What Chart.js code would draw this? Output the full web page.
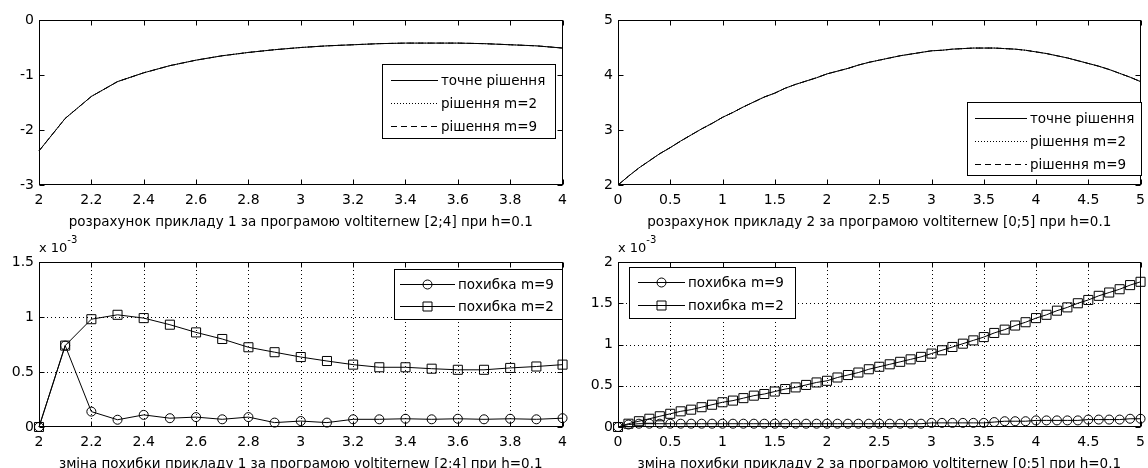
<!DOCTYPE html>
<html>
<head>
<meta charset="utf-8">
<script src="https://cdn.jsdelivr.net/npm/chart.js@4"></script>
<style>
  body { margin: 0; background: #fff; overflow: hidden; }
  canvas { position: absolute; }
</style>
</head>
<body>
<canvas id="c1" width="574" height="234" style="left:0;top:0"></canvas>
<canvas id="c2" width="578" height="234" style="left:574px;top:0"></canvas>
<canvas id="c3" width="574" height="234" style="left:0;top:234px"></canvas>
<canvas id="c4" width="578" height="234" style="left:574px;top:234px"></canvas>
<script>
// x values
const x1 = [2.0, 2.1, 2.2, 2.3, 2.4, 2.5, 2.6, 2.7, 2.8, 2.9, 3.0, 3.1, 3.2, 3.3, 3.4, 3.5, 3.6, 3.7, 3.8, 3.9, 4.0];
const x2 = [0.0, 0.1, 0.2, 0.3, 0.4, 0.5, 0.6, 0.7, 0.8, 0.9, 1.0, 1.1, 1.2, 1.3, 1.4, 1.5, 1.6, 1.7, 1.8, 1.9,
            2.0, 2.1, 2.2, 2.3, 2.4, 2.5, 2.6, 2.7, 2.8, 2.9, 3.0, 3.1, 3.2, 3.3, 3.4, 3.5, 3.6, 3.7, 3.8, 3.9,
            4.0, 4.1, 4.2, 4.3, 4.4, 4.5, 4.6, 4.7, 4.8, 4.9, 5.0];

// example 1, [2;4]
const exact1 = [-2.38, -1.79, -1.39, -1.12, -0.96, -0.83, -0.73, -0.65, -0.59, -0.54, -0.50, -0.47, -0.45, -0.43, -0.42, -0.42, -0.42, -0.43, -0.45, -0.47, -0.51];
const sol1_m2 = [-2.38, -1.79, -1.39, -1.12, -0.96, -0.83, -0.73, -0.65, -0.59, -0.54, -0.50, -0.47, -0.45, -0.43, -0.42, -0.42, -0.42, -0.43, -0.45, -0.47, -0.51];
const sol1_m9 = [-2.38, -1.79, -1.39, -1.12, -0.96, -0.83, -0.73, -0.65, -0.59, -0.54, -0.50, -0.47, -0.45, -0.43, -0.42, -0.42, -0.42, -0.43, -0.45, -0.47, -0.51];

// example 2, [0;5]
const exact2 = [2.00, 2.16, 2.31, 2.44, 2.57, 2.68, 2.80, 2.91, 3.02, 3.12, 3.23, 3.32, 3.42, 3.51, 3.60, 3.67, 3.76, 3.83, 3.89, 3.95,
                4.02, 4.07, 4.12, 4.18, 4.23, 4.27, 4.31, 4.35, 4.38, 4.41, 4.44, 4.45, 4.47, 4.48, 4.49, 4.49, 4.49, 4.48, 4.47, 4.45,
                4.42, 4.39, 4.35, 4.31, 4.26, 4.21, 4.16, 4.10, 4.03, 3.96, 3.88];
const sol2_m2 = [2.00, 2.16, 2.31, 2.44, 2.57, 2.68, 2.80, 2.91, 3.02, 3.12, 3.23, 3.32, 3.42, 3.51, 3.60, 3.67, 3.76, 3.83, 3.89, 3.95,
                 4.02, 4.07, 4.12, 4.18, 4.23, 4.27, 4.31, 4.35, 4.38, 4.41, 4.44, 4.45, 4.47, 4.48, 4.49, 4.49, 4.49, 4.48, 4.47, 4.45,
                 4.42, 4.39, 4.35, 4.31, 4.26, 4.21, 4.16, 4.10, 4.03, 3.96, 3.88];
const sol2_m9 = [2.00, 2.16, 2.31, 2.44, 2.57, 2.68, 2.80, 2.91, 3.02, 3.12, 3.23, 3.32, 3.42, 3.51, 3.60, 3.67, 3.76, 3.83, 3.89, 3.95,
                 4.02, 4.07, 4.12, 4.18, 4.23, 4.27, 4.31, 4.35, 4.38, 4.41, 4.44, 4.45, 4.47, 4.48, 4.49, 4.49, 4.49, 4.48, 4.47, 4.45,
                 4.42, 4.39, 4.35, 4.31, 4.26, 4.21, 4.16, 4.10, 4.03, 3.96, 3.88];

// errors, in units of 10^-3
const err1_m9 = [0, 0.74, 0.14, 0.066, 0.11, 0.08, 0.09, 0.07, 0.09, 0.04, 0.054, 0.04, 0.07, 0.07, 0.075, 0.07, 0.075, 0.07, 0.075, 0.07, 0.08];
const err1_m2 = [0, 0.74, 0.98, 1.02, 0.99, 0.93, 0.86, 0.80, 0.725, 0.68, 0.636, 0.60, 0.567, 0.543, 0.543, 0.53, 0.52, 0.52, 0.537, 0.55, 0.567];
const err2_m9 = [0, 0.03, 0.04, 0.04, 0.04, 0.04, 0.04, 0.04, 0.04, 0.04, 0.04, 0.04, 0.04, 0.04, 0.04, 0.04, 0.04, 0.04, 0.04, 0.04,
                 0.04, 0.04, 0.04, 0.04, 0.04, 0.04, 0.04, 0.04, 0.04, 0.04, 0.05, 0.05, 0.05, 0.05, 0.05, 0.05, 0.06, 0.07, 0.07, 0.07,
                 0.08, 0.08, 0.08, 0.08, 0.08, 0.09, 0.09, 0.09, 0.09, 0.10, 0.10];
const err2_m2 = [0, 0.04, 0.07, 0.10, 0.13, 0.16, 0.19, 0.21, 0.24, 0.27, 0.30, 0.32, 0.35, 0.38, 0.40, 0.43, 0.46, 0.48, 0.51, 0.54,
                 0.56, 0.60, 0.63, 0.66, 0.70, 0.73, 0.76, 0.79, 0.82, 0.85, 0.89, 0.93, 0.97, 1.01, 1.05, 1.09, 1.14, 1.18, 1.23, 1.27,
                 1.32, 1.36, 1.41, 1.45, 1.50, 1.54, 1.59, 1.63, 1.67, 1.72, 1.76];

// labels
const solLabels = ["точне рішення", "рішення m=2", "рішення m=9"];
const errLabels = ["похибка m=9", "похибка m=2"];
const captions = [
  "розрахунок прикладу 1 за програмою voltiternew [2;4] при h=0.1",
  "розрахунок прикладу 2 за програмою voltiternew [0;5] при h=0.1",
  "зміна похибки прикладу 1 за програмою voltiternew [2;4] при h=0.1",
  "зміна похибки прикладу 2 за програмою voltiternew [0;5] при h=0.1"
];

const FONT = "'DejaVu Sans', sans-serif";
Chart.defaults.font.family = FONT;
Chart.defaults.font.size = 14;
Chart.defaults.color = '#000';

function pts(xs, ys) {
  return xs.map((x, i) => ({ x: x, y: ys[i] }));
}

function fmt(v) {
  return String(+v.toFixed(2));
}

function hline(ctx, x0, y0, x1, y1) {
  ctx.beginPath();
  ctx.moveTo(x0, y0);
  ctx.lineTo(x1, y1);
  ctx.stroke();
}

function marker(ctx, style, x, y) {
  ctx.beginPath();
  if (style === 'circle') {
    ctx.arc(x, y, 4.5, 0, Math.PI * 2);
  } else {
    ctx.rect(x - 4.5, y - 4.5, 9, 9);
  }
  ctx.stroke();
}

// matlab style box, inward ticks, dotted grid, caption, legend
const matlabAxes = {
  id: 'matlabAxes',
  beforeDatasetsDraw(chart, args, opts) {
    if (!opts.grid) return;
    const { ctx, chartArea: a, scales: { x, y } } = chart;
    ctx.save();
    ctx.strokeStyle = '#000';
    ctx.lineWidth = 1;
    ctx.setLineDash([1, 3]);
    x.ticks.forEach(t => {
      const px = Math.round(x.getPixelForValue(t.value)) + 0.5;
      if (px > a.left + 2 && px < a.right - 2) hline(ctx, px, a.top, px, a.bottom);
    });
    y.ticks.forEach(t => {
      const py = Math.round(y.getPixelForValue(t.value)) + 0.5;
      if (py > a.top + 2 && py < a.bottom - 2) hline(ctx, a.left, py, a.right, py);
    });
    ctx.restore();
  },
  afterDraw(chart, args, opts) {
    const { ctx, chartArea: a, scales: { x, y } } = chart;
    ctx.save();
    ctx.strokeStyle = '#000';
    ctx.lineWidth = 1;
    ctx.setLineDash([]);
    const L = Math.round(a.left) + 0.5, R = Math.round(a.right) - 0.5;
    const T = Math.round(a.top) + 0.5, B = Math.round(a.bottom) - 0.5;
    ctx.strokeRect(L, T, R - L, B - T);
    x.ticks.forEach(t => {
      const px = Math.round(x.getPixelForValue(t.value)) + 0.5;
      hline(ctx, px, B, px, B - 5);
      hline(ctx, px, T, px, T + 5);
    });
    y.ticks.forEach(t => {
      const py = Math.round(y.getPixelForValue(t.value)) + 0.5;
      hline(ctx, L, py, L + 5, py);
      hline(ctx, R, py, R - 5, py);
    });

    ctx.fillStyle = '#000';
    ctx.font = '13.5px ' + FONT;
    ctx.textAlign = 'center';
    ctx.textBaseline = 'alphabetic';
    ctx.fillText(opts.caption, (a.left + a.right) / 2, a.bottom + 41);

    if (opts.exponent) {
      ctx.textAlign = 'left';
      ctx.font = '13px ' + FONT;
      ctx.fillText('x 10', a.left, a.top - 10);
      const w = ctx.measureText('x 10').width;
      ctx.font = '10px ' + FONT;
      ctx.fillText('-3', a.left + w, a.top - 19);
    }

    // legend
    const lg = opts.legend;
    ctx.fillStyle = '#fff';
    ctx.fillRect(lg.x, lg.y, lg.w, lg.h);
    ctx.strokeRect(lg.x + 0.5, lg.y + 0.5, lg.w, lg.h);
    ctx.font = '13.5px ' + FONT;
    ctx.textAlign = 'left';
    ctx.textBaseline = 'middle';
    chart.data.datasets.forEach((ds, i) => {
      const ry = Math.round(lg.y + lg.first + i * lg.step) + 0.5;
      ctx.setLineDash(ds.borderDash || []);
      hline(ctx, lg.x + lg.s0, ry, lg.x + lg.s1, ry);
      ctx.setLineDash([]);
      if (ds.pointStyle && ds.pointRadius > 0) {
        marker(ctx, ds.pointStyle, lg.x + (lg.s0 + lg.s1) / 2, ry);
      }
      ctx.fillStyle = '#000';
      ctx.fillText(ds.label, lg.x + lg.tx, ry + 1);
    });
    ctx.restore();
  }
};

function lineDs(label, xs, ys, dash) {
  return {
    label: label, data: pts(xs, ys), borderColor: '#000', borderWidth: 1,
    borderDash: dash, pointRadius: 0, tension: 0, fill: false, clip: false
  };
}

function markDs(label, xs, ys, style) {
  return {
    label: label, data: pts(xs, ys), borderColor: '#000', borderWidth: 1,
    pointStyle: style, pointRadius: style === 'rect' ? 6.4 : 4.5,
    pointBorderColor: '#000', pointBackgroundColor: 'rgba(0,0,0,0)', pointBorderWidth: 1,
    tension: 0, fill: false, clip: false
  };
}

function makeChart(id, o) {
  return new Chart(document.getElementById(id), {
    type: 'line',
    data: { datasets: o.datasets },
    options: {
      responsive: false,
      animation: false,
      devicePixelRatio: 1,
      events: [],
      layout: { padding: { left: 0, right: o.padRight, top: o.padTop, bottom: 0 } },
      plugins: {
        legend: { display: false },
        tooltip: { enabled: false },
        matlabAxes: { caption: o.caption, grid: o.grid, exponent: o.exponent, legend: o.legend }
      },
      scales: {
        x: {
          type: 'linear', min: o.xMin, max: o.xMax,
          ticks: { stepSize: o.xStep, padding: 7, maxRotation: 0, autoSkip: false, callback: fmt },
          grid: { display: false, drawTicks: false },
          border: { display: false },
          afterFit: s => { s.height = o.xHeight; }
        },
        y: {
          type: 'linear', min: o.yMin, max: o.yMax,
          ticks: { stepSize: o.yStep, padding: 5, autoSkip: false, callback: fmt },
          grid: { display: false, drawTicks: false },
          border: { display: false },
          afterFit: s => { s.width = o.yWidth; }
        }
      }
    },
    plugins: [matlabAxes]
  });
}

makeChart('c1', {
  datasets: [
    lineDs(solLabels[0], x1, exact1, []),
    lineDs(solLabels[1], x1, sol1_m2, [1, 2]),
    lineDs(solLabels[2], x1, sol1_m9, [6, 4])
  ],
  xMin: 2, xMax: 4, xStep: 0.2, yMin: -3, yMax: 0, yStep: 1,
  padTop: 20, padRight: 8, yWidth: 39, xHeight: 49,
  caption: captions[0], grid: false, exponent: false,
  legend: { x: 382, y: 64, w: 173, h: 74, first: 16, step: 23, s0: 9, s1: 56, tx: 59 }
});

makeChart('c2', {
  datasets: [
    lineDs(solLabels[0], x2, exact2, []),
    lineDs(solLabels[1], x2, sol2_m2, [1, 2]),
    lineDs(solLabels[2], x2, sol2_m9, [6, 4])
  ],
  xMin: 0, xMax: 5, xStep: 0.5, yMin: 2, yMax: 5, yStep: 1,
  padTop: 20, padRight: 7, yWidth: 44, xHeight: 49,
  caption: captions[1], grid: false, exponent: false,
  legend: { x: 393, y: 102, w: 174, h: 73, first: 16, step: 23, s0: 8, s1: 60, tx: 63 }
});

makeChart('c3', {
  datasets: [
    markDs(errLabels[0], x1, err1_m9, 'circle'),
    markDs(errLabels[1], x1, err1_m2, 'rect')
  ],
  xMin: 2, xMax: 4, xStep: 0.2, yMin: 0, yMax: 1.5, yStep: 0.5,
  padTop: 28, padRight: 8, yWidth: 39, xHeight: 41,
  caption: captions[2], grid: true, exponent: true,
  legend: { x: 394, y: 35, w: 168, h: 50, first: 15, step: 22, s0: 6, s1: 61, tx: 64 }
});

makeChart('c4', {
  datasets: [
    markDs(errLabels[0], x2, err2_m9, 'circle'),
    markDs(errLabels[1], x2, err2_m2, 'rect')
  ],
  xMin: 0, xMax: 5, xStep: 0.5, yMin: 0, yMax: 2, yStep: 0.5,
  padTop: 28, padRight: 7, yWidth: 44, xHeight: 41,
  caption: captions[3], grid: true, exponent: true,
  legend: { x: 55, y: 33, w: 166, h: 51, first: 15, step: 23, s0: 9, s1: 56, tx: 59 }
});
</script>
</body>
</html>
